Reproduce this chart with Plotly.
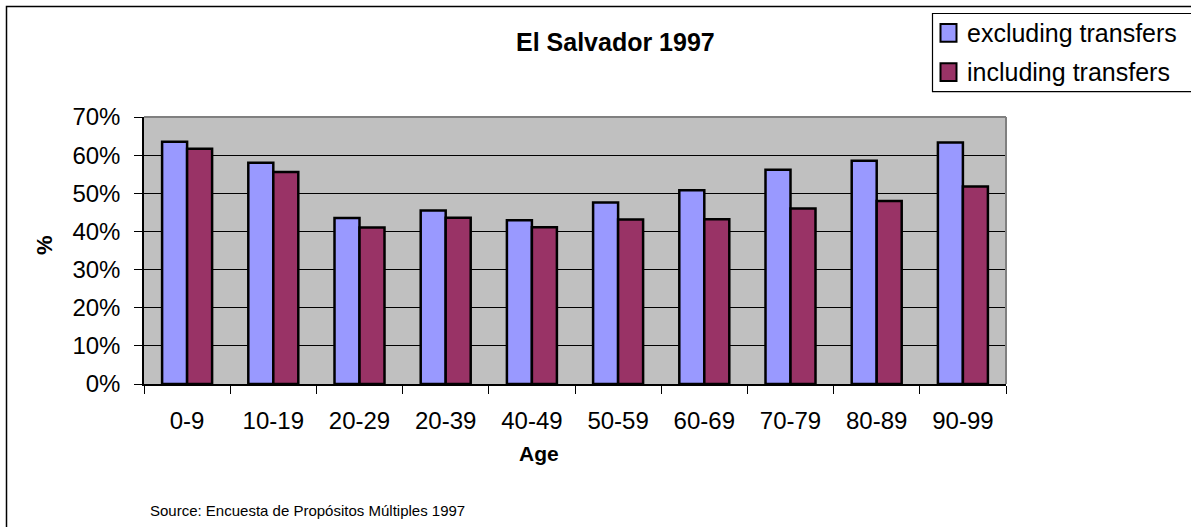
import plotly.graph_objects as go

# ---- data ----
age_groups = ["0-9", "10-19", "20-29", "20-39", "40-49", "50-59", "60-69", "70-79", "80-89", "90-99"]
excluding_transfers = [0.635, 0.580, 0.435, 0.455, 0.429, 0.476, 0.508, 0.562, 0.585, 0.633]
including_transfers = [0.617, 0.556, 0.410, 0.436, 0.411, 0.431, 0.432, 0.460, 0.480, 0.518]
series_names = ["excluding transfers", "including transfers"]
series_colors = ["#9999FF", "#993366"]
y_ticks = [0, 0.1, 0.2, 0.3, 0.4, 0.5, 0.6, 0.7]

FONT = "Liberation Sans, Arial, sans-serif"

# target geometry in screen pixels (page body margin removed via post_script)
W, H = 1191, 527
L, R, T, B = 144, 1006, 117, 384
PW, PH = R - L, B - T


def px(x):
    return (x - L) / PW


def py(y):
    return (B - y) / PH


fig = go.Figure()
for name, vals, col in zip(series_names, [excluding_transfers, including_transfers], series_colors):
    fig.add_trace(go.Bar(
        x=age_groups, y=vals, name=name,
        marker=dict(color=col, line=dict(color="black", width=2.5)),
        showlegend=False,
    ))

fig.update_layout(
    width=W, height=H,
    margin=dict(l=L, r=W - R, t=T, b=H - B, autoexpand=False),
    paper_bgcolor="white",
    plot_bgcolor="#C0C0C0",
    barmode="group",
    bargap=0.42,
    bargroupgap=0,
    font=dict(family=FONT, color="black"),
    xaxis=dict(
        type="category",
        tickson="boundaries",
        ticks="outside", ticklen=8, tickcolor="black", tickwidth=1,
        showline=True, linecolor="black", linewidth=1.5,
        showgrid=False,
        tickfont=dict(size=24, family=FONT, color="black"),
        ticklabelstandoff=14,
    ),
    yaxis=dict(
        range=[0, 0.70],
        tickvals=y_ticks,
        tickformat=".0%",
        ticks="outside", ticklen=8, tickcolor="black", tickwidth=1,
        showline=True, linecolor="black", linewidth=1.5,
        showgrid=True, gridcolor="black", gridwidth=1,
        zeroline=False,
        tickfont=dict(size=24, family=FONT, color="black"),
        ticklabelstandoff=9,
    ),
)

shapes = []
# plot area top/right border (gray)
shapes.append(dict(type="line", xref="paper", yref="paper", x0=0, x1=1, y0=1, y1=1,
                   line=dict(color="#808080", width=2)))
shapes.append(dict(type="line", xref="paper", yref="paper", x0=1, x1=1, y0=0, y1=1,
                   line=dict(color="#808080", width=2)))
# outer chart border (top & left visible)
shapes.append(dict(type="rect", xref="paper", yref="paper",
                   x0=px(6.5), x1=px(1300), y0=py(6.5), y1=py(700),
                   line=dict(color="black", width=1.5), layer="below"))
# legend box
shapes.append(dict(type="rect", xref="paper", yref="paper",
                   x0=px(932.5), x1=px(1300), y0=py(91.7), y1=py(13.5),
                   line=dict(color="black", width=1.2), fillcolor="white"))
# legend swatches
for (ytop, ybot), col in zip([(24, 41.7), (63.3, 81)], series_colors):
    shapes.append(dict(type="rect", xref="paper", yref="paper",
                       x0=px(940.5), x1=px(956.5), y0=py(ybot), y1=py(ytop),
                       fillcolor=col, line=dict(color="black", width=2)))
fig.update_layout(shapes=shapes)

annotations = [
    dict(text="<b>El Salvador 1997</b>", x=px(615), y=py(42), xref="paper", yref="paper",
         showarrow=False, xanchor="center", yanchor="middle",
         font=dict(size=25, family=FONT, color="black")),
    dict(text="<b>Age</b>", x=px(539), y=py(453), xref="paper", yref="paper",
         showarrow=False, xanchor="center", yanchor="middle",
         font=dict(size=21, family=FONT, color="black")),
    dict(text="<b>%</b>", x=px(44), y=py(245), xref="paper", yref="paper",
         showarrow=False, xanchor="center", yanchor="middle", textangle=-90,
         font=dict(size=22, family=FONT, color="black")),
    dict(text="Source: Encuesta de Propósitos Múltiples 1997", x=px(148), y=py(510),
         xref="paper", yref="paper", showarrow=False, xanchor="left", yanchor="middle",
         font=dict(size=15, family=FONT, color="black")),
]
for name, yc in zip(series_names, [32.5, 72.5]):
    annotations.append(dict(text=name, x=px(965), y=py(yc), xref="paper", yref="paper",
                            showarrow=False, xanchor="left", yanchor="middle",
                            font=dict(size=25, family=FONT, color="black")))
fig.update_layout(annotations=annotations)

fig.write_html(
    "out.html",
    config={"displayModeBar": False},
    post_script="document.body.style.margin='0';document.body.style.overflow='hidden';",
)
